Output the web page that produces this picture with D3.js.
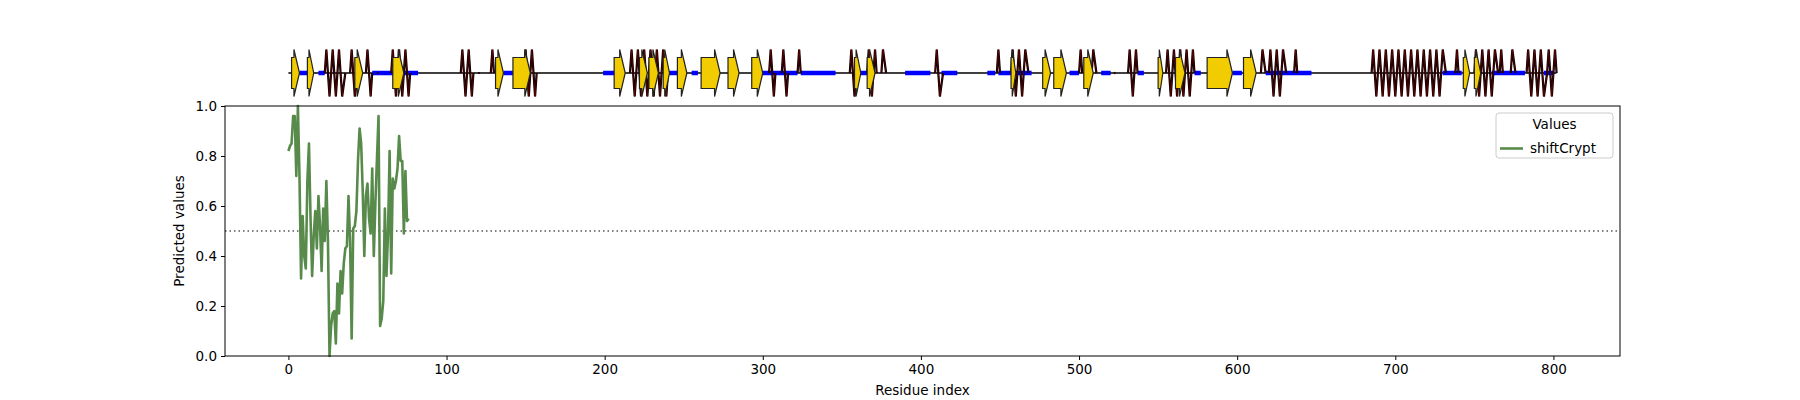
<!DOCTYPE html>
<html>
<head>
<meta charset="utf-8">
<script src="https://cdn.jsdelivr.net/npm/d3@7"></script>
<style>
  body { margin: 0; background: #fff; }
  text { font-family: "DejaVu Sans", sans-serif; }
</style>
</head>
<body>
<svg id="chart"></svg>
<script>
// predicted values per residue (residue index starts at 0)
const shiftCrypt = [0.82,0.84,0.85,0.96,0.96,0.72,1.0,0.72,0.31,0.56,0.40,0.35,0.70,0.85,0.55,0.32,
  0.48,0.58,0.43,0.64,0.52,0.34,0.59,0.46,0.70,0.46,0.0,0.12,0.17,0.18,0.05,0.29,0.17,0.34,0.25,0.37,
  0.43,0.44,0.64,0.46,0.07,0.51,0.52,0.58,0.78,0.91,0.85,0.66,0.40,0.64,0.69,0.55,0.49,0.75,0.40,0.61,
  0.79,0.96,0.12,0.15,0.22,0.59,0.32,0.49,0.82,0.33,0.71,0.67,0.70,0.75,0.88,0.78,0.78,0.49,0.74,0.54,0.55];
const threshold = 0.5;
const seqLength = 802;

// secondary structure track, [start, end] in residues
const strands = [[2,7],[12,16],[42,47],[66,73],[131,136],[142,153],[206,213],[222,227],[228,234],[237,241],
  [246,252],[261,273],[278,285],[293,300],[358,362],[366,371],[457,460],[477,482],[484,492],[503,509],
  [550,553],[561,567],[581,597],[604,612],[743,747],[750,754]];
const helices = [[23,36],[39,44],[49,53],[56,57],[65,77],[109,117],[120,121],[128,130],[149,157],[216,240],
  [304,308],[312,316],[322,324],[355,360],[366,372],[375,378],[409,414],[448,450],[457,468],[500,502],
  [508,511],[522,523],[531,537],[555,573],[615,618],[620,631],[636,638],[685,732],[738,740],[750,765],
  [766,768],[773,776],[783,796],[796,802]];
const turns = [[7,12],[19,23],[53,82],[136,142],[199,206],[240,246],[255,259],[300,322],[324,346],[362,366],
  [390,406],[413,423],[442,447],[449,470],[494,500],[514,520],[537,541],[573,577],[597,603],[618,647],
  [730,742],[761,782],[794,800]];

const W = 1800, H = 400;
const margin = {top: 106, right: 180, bottom: 44, left: 225};
const svg = d3.select("#chart").attr("width", W).attr("height", H);

const x = d3.scaleLinear().domain([-40.1, 842.1]).range([margin.left, W - margin.right]);
const y = d3.scaleLinear().domain([0, 1]).range([H - margin.bottom, margin.top]);

// --- top structure track
const trackY = 73, half = 23.5, bodyHalf = 15.5;
const track = svg.append("g");
track.append("line").attr("x1", x(0)).attr("x2", x(seqLength)).attr("y1", trackY).attr("y2", trackY)
  .attr("stroke", "#000").attr("stroke-width", 1.3);
track.selectAll(".turn").data(turns).join("line")
  .attr("x1", d => x(d[0])).attr("x2", d => x(d[1]))
  .attr("y1", trackY).attr("y2", trackY)
  .attr("stroke", "#0000ff").attr("stroke-width", 4.5);

const zigzag = d => {
  const pts = [[x(d[0]), trackY]];
  let up = true;
  for (let r = d[0] + 1; r < d[1]; r += 2) {
    pts.push([x(r), up ? trackY - half : trackY + half]);
    up = !up;
  }
  pts.push([x(d[1]), trackY]);
  return d3.line()(pts);
};
track.selectAll(".helix").data(helices).join("path")
  .attr("d", zigzag)
  .attr("fill", "none").attr("stroke", "#000").attr("stroke-width", 2.2);
track.selectAll(".helix2").data(helices).join("path")
  .attr("d", zigzag)
  .attr("fill", "none").attr("stroke", "#8b0000").attr("stroke-width", 0.6);
track.selectAll(".strand").data(strands).join("path")
  .attr("d", d => {
    const len = d[1] - d[0];
    const headStart = d[1] - Math.min(len * 0.75, 3.5);
    return d3.line()([[x(d[0]), trackY - bodyHalf], [x(headStart), trackY - bodyHalf], [x(headStart), trackY - half],
      [x(d[1]), trackY], [x(headStart), trackY + half], [x(headStart), trackY + bodyHalf],
      [x(d[0]), trackY + bodyHalf]]) + "Z";
  })
  .attr("fill", "#f0cc00").attr("stroke", "#222").attr("stroke-width", 1.2);

// --- main plot
svg.append("line").attr("x1", margin.left).attr("x2", W - margin.right)
  .attr("y1", y(threshold)).attr("y2", y(threshold))
  .attr("stroke", "#555").attr("stroke-width", 1.5).attr("stroke-dasharray", "1.5,3");

svg.append("path").datum(shiftCrypt)
  .attr("d", d3.line().x((d, i) => x(i)).y(d => y(d)))
  .attr("fill", "none").attr("stroke", "#588b4b").attr("stroke-width", 2.6)
  .attr("stroke-linejoin", "round");

svg.append("rect").attr("x", margin.left).attr("y", margin.top)
  .attr("width", W - margin.right - margin.left).attr("height", H - margin.bottom - margin.top)
  .attr("fill", "none").attr("stroke", "#000").attr("stroke-width", 1);

const xAxis = svg.append("g").attr("transform", `translate(0,${H - margin.bottom})`)
  .call(d3.axisBottom(x).tickValues(d3.range(0, 801, 100)).tickSize(4).tickPadding(4).tickSizeOuter(0));
const yAxis = svg.append("g").attr("transform", `translate(${margin.left},0)`)
  .call(d3.axisLeft(y).tickValues(d3.range(0, 1.01, 0.2)).tickFormat(d3.format(".1f")).tickSize(4).tickPadding(4).tickSizeOuter(0));
[xAxis, yAxis].forEach(a => {
  a.select(".domain").remove();
  a.selectAll("text").attr("font-size", 13.5).attr("font-family", "DejaVu Sans").attr("fill", "#000");
});

svg.append("text").attr("x", (margin.left + W - margin.right) / 2).attr("y", 395)
  .attr("text-anchor", "middle").attr("font-size", 13.5).text("Residue index");
svg.append("text").attr("transform", `translate(184,${(margin.top + H - margin.bottom) / 2}) rotate(-90)`)
  .attr("text-anchor", "middle").attr("font-size", 13.5).text("Predicted values");

// --- legend
const lg = svg.append("g").attr("transform", "translate(1496,113)");
lg.append("rect").attr("width", 117).attr("height", 45).attr("rx", 3)
  .attr("fill", "#fff").attr("stroke", "#ccc");
lg.append("text").attr("x", 58.5).attr("y", 16).attr("text-anchor", "middle").attr("font-size", 13.5).text("Values");
lg.append("line").attr("x1", 4).attr("x2", 27).attr("y1", 35.5).attr("y2", 35.5)
  .attr("stroke", "#588b4b").attr("stroke-width", 2.6);
lg.append("text").attr("x", 34).attr("y", 40).attr("font-size", 13.5).text("shiftCrypt");
</script>
</body>
</html>
